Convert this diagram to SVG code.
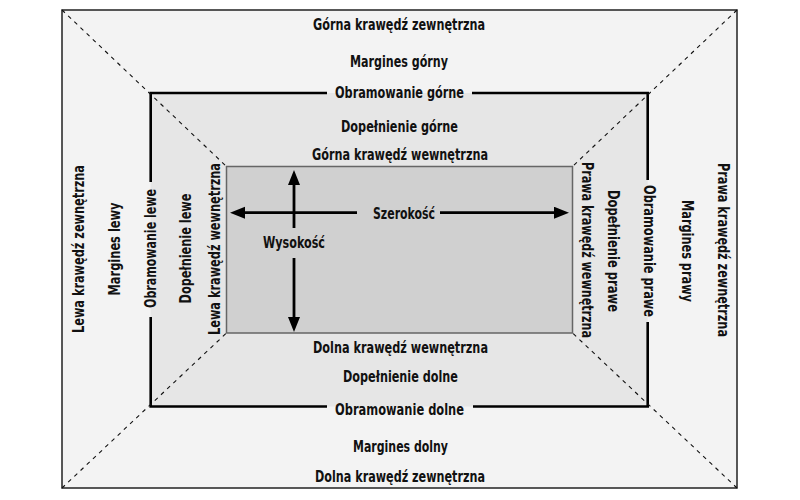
<svg xmlns="http://www.w3.org/2000/svg" width="800" height="500" viewBox="0 0 800 500">
<style>
text{font-family:"Liberation Sans Narrow","DejaVu Sans Condensed","Liberation Sans",sans-serif;font-weight:bold;font-size:16.5px;fill:#111;text-anchor:middle}
.edge{stroke:#000;stroke-width:2.6;fill:none}
.diag{stroke:#111;stroke-width:1.1;stroke-dasharray:4 4.5;fill:none}
.arr{stroke:#000;stroke-width:2.8;fill:none}
</style>
<defs>
<marker id="ah" markerUnits="userSpaceOnUse" markerWidth="16" markerHeight="14" refX="6" refY="6" orient="auto">
<path d="M0,0 L15,6 L0,12 z" fill="#000"/>
</marker>
</defs>
<rect width="800" height="500" fill="#fff"/>
<g id="margin">
<rect x="62" y="10" width="675" height="478" fill="#f3f3f3" stroke="#222" stroke-width="1.5"/>
<text x="399" y="30" textLength="172" lengthAdjust="spacingAndGlyphs">Górna krawędź zewnętrzna</text>
<text x="399" y="66.7" textLength="98" lengthAdjust="spacingAndGlyphs">Margines górny</text>
<text x="400.5" y="451.7" textLength="95" lengthAdjust="spacingAndGlyphs">Margines dolny</text>
<text x="400" y="481.7" textLength="170" lengthAdjust="spacingAndGlyphs">Dolna krawędź zewnętrzna</text>
<text transform="translate(83.5,249) rotate(-90)" textLength="168" lengthAdjust="spacingAndGlyphs">Lewa krawędź zewnętrzna</text>
<text transform="translate(120,249) rotate(-90)" textLength="93" lengthAdjust="spacingAndGlyphs">Margines lewy</text>
<text transform="translate(681.5,251) rotate(90)" textLength="102" lengthAdjust="spacingAndGlyphs">Margines prawy</text>
<text transform="translate(718,250) rotate(90)" textLength="174" lengthAdjust="spacingAndGlyphs">Prawa krawędź zewnętrzna</text>
</g>
<g id="padding">
<rect x="150.7" y="93" width="497" height="313.5" fill="#e6e6e6"/>
<text x="399.5" y="131.7" textLength="117" lengthAdjust="spacingAndGlyphs">Dopełnienie górne</text>
<text x="400.5" y="381.7" textLength="115" lengthAdjust="spacingAndGlyphs">Dopełnienie dolne</text>
<text transform="translate(191,248.5) rotate(-90)" textLength="110" lengthAdjust="spacingAndGlyphs">Dopełnienie lewe</text>
<text transform="translate(608,251) rotate(90)" textLength="122" lengthAdjust="spacingAndGlyphs">Dopełnienie prawe</text>
</g>
<g id="content">
<rect x="226.5" y="166.5" width="346" height="166.5" fill="#d0d0d0" stroke="#666" stroke-width="1.5"/>
<text x="400" y="160" textLength="176" lengthAdjust="spacingAndGlyphs">Górna krawędź wewnętrzna</text>
<text x="400.5" y="353" textLength="175" lengthAdjust="spacingAndGlyphs">Dolna krawędź wewnętrzna</text>
<text transform="translate(219.5,249) rotate(-90)" textLength="172" lengthAdjust="spacingAndGlyphs">Lewa krawędź wewnętrzna</text>
<text transform="translate(582,250) rotate(90)" textLength="176" lengthAdjust="spacingAndGlyphs">Prawa krawędź wewnętrzna</text>
<text x="404" y="219" textLength="62" lengthAdjust="spacingAndGlyphs">Szerokość</text>
<text x="294" y="248" textLength="62" lengthAdjust="spacingAndGlyphs">Wysokość</text>
</g>
<g id="border">
<path class="edge" d="M327,93 H150.7 V182 M150.7,317 V406.5 H327 M473,406.5 H647.7 V322 M647.7,180 V93 H472"/>
<text x="399.5" y="97.7" textLength="129" lengthAdjust="spacingAndGlyphs">Obramowanie górne</text>
<text x="399.5" y="415" textLength="129" lengthAdjust="spacingAndGlyphs">Obramowanie dolne</text>
<text transform="translate(155.5,248.5) rotate(-90)" textLength="119" lengthAdjust="spacingAndGlyphs">Obramowanie lewe</text>
<text transform="translate(644,251) rotate(90)" textLength="132" lengthAdjust="spacingAndGlyphs">Obramowanie prawe</text>
</g>
<g id="connectors">
<path class="diag" d="M62,10 L226.5,166.5"/>
<path class="diag" d="M737,10 L572.5,166.5"/>
<path class="diag" d="M62,488 L226.5,333"/>
<path class="diag" d="M737,488 L572.5,333"/>
<line class="arr" x1="357" y1="212.7" x2="239" y2="212.7" marker-end="url(#ah)"/>
<line class="arr" x1="440" y1="212.7" x2="560" y2="212.7" marker-end="url(#ah)"/>
<line class="arr" x1="294" y1="228" x2="294" y2="179" marker-end="url(#ah)"/>
<line class="arr" x1="294" y1="258" x2="294" y2="323" marker-end="url(#ah)"/>
</g>
</svg>
